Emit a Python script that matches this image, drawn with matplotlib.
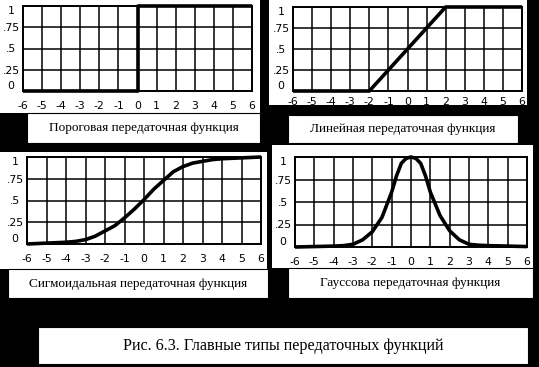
import matplotlib
matplotlib.use('Agg')
import matplotlib.pyplot as pyplot
import matplotlib.patches as patches


WIDTH = 539
HEIGHT = 367

X_TICKS = [-6, -5, -4, -3, -2, -1, 0, 1, 2, 3, 4, 5, 6]
X_TICK_LABELS = ['-6', '-5', '-4', '-3', '-2', '-1', '0', '1', '2', '3', '4', '5', '6']
Y_TICKS = [0, 0.25, 0.5, 0.75, 1]
Y_TICK_LABELS = ['0', '.25', '.5', '.75', '1']

THRESHOLD_X = [-6, 0, 0, 6]
THRESHOLD_Y = [0, 0, 1, 1]

LINEAR_X = [-6, -2, 2, 6]
LINEAR_Y = [0, 0, 1, 1]

SIGMOID_X = [-6, -5, -4, -3.5, -3, -2.5, -2, -1.5, -1, -0.5, 0,
             0.5, 1, 1.5, 2, 2.5, 3, 3.5, 4, 5, 6]
SIGMOID_Y = [0.0, 0.01, 0.02, 0.03, 0.05, 0.09, 0.15, 0.21, 0.3, 0.4, 0.51,
             0.63, 0.73, 0.83, 0.89, 0.93, 0.95, 0.97, 0.98, 0.99, 1.0]

GAUSSIAN_X = [-6, -5, -4, -3.5, -3, -2.5, -2, -1.5, -1, -0.75, -0.5, -0.25, 0,
              0.25, 0.5, 0.75, 1, 1.5, 2, 2.5, 3, 3.5, 4, 5, 6]
GAUSSIAN_Y = [0.0, 0.005, 0.01, 0.015, 0.03, 0.08, 0.17, 0.33, 0.61, 0.79, 0.93, 0.985, 1.0,
              0.985, 0.93, 0.79, 0.61, 0.35, 0.18, 0.08, 0.03, 0.02, 0.015, 0.01, 0.005]

CAPTIONS = [
    'Пороговая передаточная функция',
    'Линейная передаточная функция',
    'Сигмоидальная передаточная функция',
    'Гауссова передаточная функция',
]
FIGURE_CAPTION = 'Рис. 6.3. Главные типы передаточных функций'


def fig_rect(x0, y0, x1, y1):
    # pixel box (top-left origin) -> figure fraction [left, bottom, w, h]
    return [x0 / WIDTH, 1 - y1 / HEIGHT, (x1 - x0) / WIDTH, (y1 - y0) / HEIGHT]


def white_box(figure, box, edge=False):
    left, bottom, w, h = fig_rect(*box)
    figure.patches.append(patches.Rectangle(
        (left, bottom), w, h, transform=figure.transFigure,
        facecolor='white', edgecolor='black' if edge else 'none',
        linewidth=0.8, zorder=-1))


def caption(figure, box, text, size):
    white_box(figure, box, edge=True)
    left, bottom, w, h = fig_rect(*box)
    figure.text(left + w / 2, bottom + h / 2, text, ha='center', va='center',
                fontsize=size, family='Liberation Serif', color='black')


def panel(figure, box, xs, ys, x_pad):
    axes = figure.add_axes(fig_rect(*box))
    axes.set_zorder(1)
    axes.set_facecolor('white')
    axes.plot(xs, ys, color='black', linewidth=2.6, clip_on=False,
              solid_joinstyle='round', solid_capstyle='butt', zorder=5)
    axes.set_xlim(-6, 6)
    axes.set_ylim(0, 1)
    axes.set_xticks(X_TICKS)
    axes.set_xticklabels(X_TICK_LABELS, fontsize=7.8, family='DejaVu Sans')
    axes.set_yticks(Y_TICKS)
    labels = axes.set_yticklabels(Y_TICK_LABELS, fontsize=7.8,
                                  family='DejaVu Sans', ha='center')
    # the end labels sit inside the box, as in the scan
    labels[0].set_va('bottom')
    labels[-1].set_va('top')
    axes.tick_params(axis='x', length=0, pad=x_pad)
    axes.tick_params(axis='y', length=0, pad=8.5)
    axes.grid(color='black', linewidth=1.1)
    axes.set_axisbelow(True)
    for spine in axes.spines.values():
        spine.set_linewidth(1.4)
    return axes


figure = pyplot.figure(figsize=(WIDTH / 100, HEIGHT / 100), dpi=100,
                       facecolor='black')

# white backgrounds of the four pictures
white_box(figure, (0, 0, 260, 113))
white_box(figure, (269, 0, 527, 105))
white_box(figure, (0, 152, 267, 269))
white_box(figure, (272, 145, 533, 268))

panel(figure, (23, 6, 252, 91), THRESHOLD_X, THRESHOLD_Y, 7.5)
panel(figure, (293, 7, 522, 91), LINEAR_X, LINEAR_Y, 4)
panel(figure, (27, 157, 261, 244), SIGMOID_X, SIGMOID_Y, 7)
panel(figure, (295, 157, 527, 247), GAUSSIAN_X, GAUSSIAN_Y, 7.5)

caption(figure, (27, 113, 260, 143), CAPTIONS[0], 9.5)
caption(figure, (288, 115, 518, 143), CAPTIONS[1], 9.5)
caption(figure, (8, 269, 268, 298), CAPTIONS[2], 9.5)
caption(figure, (288, 268, 533, 298), CAPTIONS[3], 9.5)
caption(figure, (38, 327, 528, 364), FIGURE_CAPTION, 11.6)

figure.savefig('out.png', dpi=100, facecolor='black')
